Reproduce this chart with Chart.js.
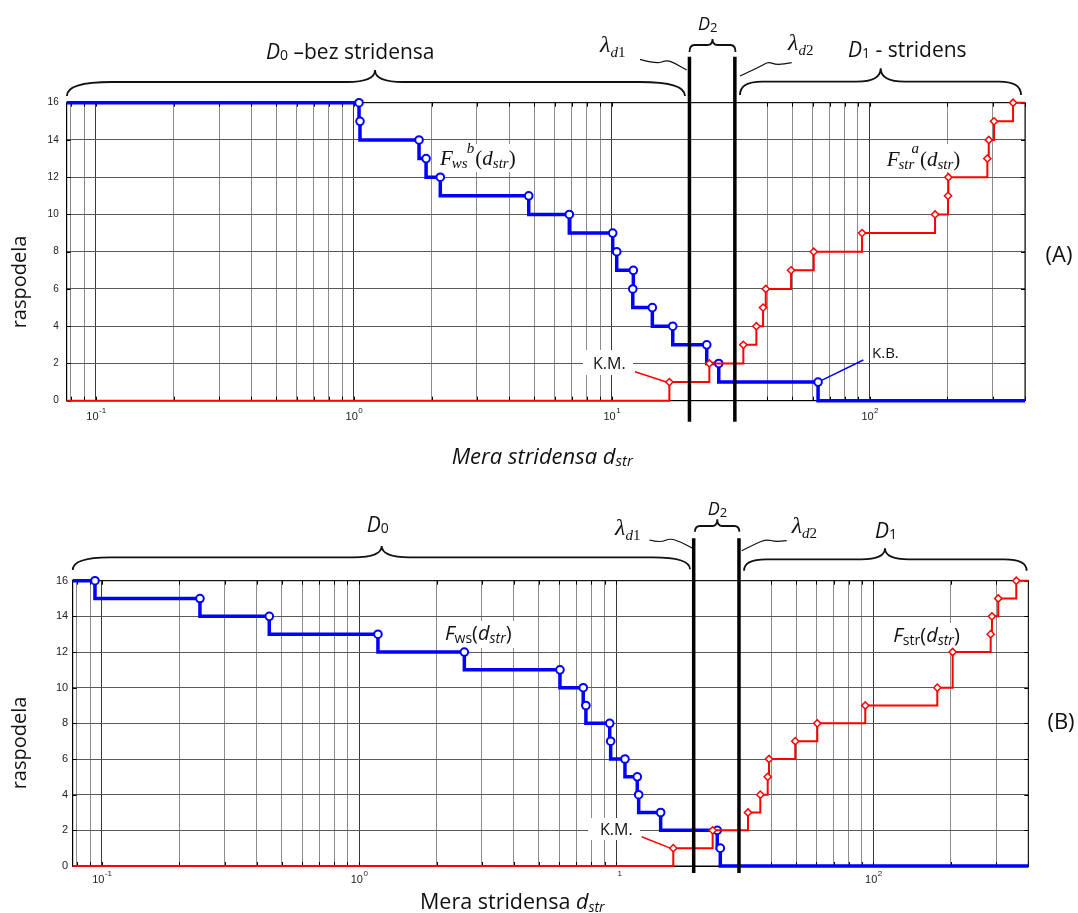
<!DOCTYPE html>
<html>
<head>
<meta charset="utf-8">
<script src="https://cdn.jsdelivr.net/npm/chart.js@4.4.1/dist/chart.umd.min.js"></script>
<style>
  html, body { margin: 0; padding: 0; background: #fff; }
  #wrap { position: relative; width: 1078px; height: 913px; overflow: hidden; background: #fff; }
  canvas { position: absolute; left: 0; }
  #cA { top: 0; }
  #cB { top: 480px; }
</style>
</head>
<body>
<div id="wrap">
  <canvas id="cA" width="1078" height="480"></canvas>
  <canvas id="cB" width="1078" height="433"></canvas>
</div>
<script>
// ---- axis range, grid and tick labels ----
const X_MIN = 0.077, X_MAX = 400;
const X_GRID = [0.08, 0.09,
  0.1, 0.2, 0.3, 0.4, 0.5, 0.6, 0.7, 0.8, 0.9,
  1, 2, 3, 4, 5, 6, 7, 8, 9,
  10, 20, 30, 40, 50, 60, 70, 80, 90,
  100, 200, 300, 400];
const X_DECADES = [0.1, 1, 10, 100];
const DECADE_EXP = ['-1', '0', '1', '2'];
const DECADE_BASE_A = ['10', '10', '10', '10'];
const DECADE_BASE_B = ['10', '10', '', '10'];
const Y_MIN = 0, Y_MAX = 16, Y_STEP = 2;

// threshold lines between the regions D0 / D2 / D1
const LAMBDA_D1 = 20;
const LAMBDA_D2 = 30;

// ---- (A) F^b_ws (blue, falling) and F^a_str (red, rising) ----
const wsA_x = [1.047, 1.056, 1.789, 1.905, 2.163, 4.763, 6.844, 10.08, 10.45, 12.12, 12.06, 14.36, 17.23, 23.34, 25.98, 63.06];
const wsA_y = [16, 15, 14, 13, 12, 11, 10, 9, 8, 7, 6, 5, 4, 3, 2, 1];
const strA_x = [16.72, 23.89, 32.36, 36.35, 38.59, 39.53, 49.55, 60.67, 93.4, 179.2, 201.2, 201.8, 285.8, 289.4, 303.4, 359.6];
const strA_y = [1, 2, 3, 4, 5, 6, 7, 8, 9, 10, 11, 12, 13, 14, 15, 16];

// ---- (B) F_ws (blue, falling) and F_str (red, rising) ----
const wsB_x = [0.094, 0.2406, 0.4476, 1.184, 2.566, 6.04, 7.44, 7.62, 9.43, 9.51, 10.81, 12.07, 12.22, 14.88, 24.7, 25.38];
const wsB_y = [16, 15, 14, 13, 12, 11, 10, 9, 8, 7, 6, 5, 4, 3, 2, 1];
const strB_x = [16.66, 23.7, 32.52, 36.31, 38.8, 39.25, 49.66, 60.47, 92.94, 177.1, 203.2, 285.6, 288.9, 305.6, 359.2];
const strB_y = [1, 2, 3, 4, 5, 6, 7, 8, 9, 10, 12, 13, 14, 15, 16];

// ---- fonts ----
const SANS = '"Open Sans", "Noto Sans", "DejaVu Sans", sans-serif';
const SERIF = '"Liberation Serif", "DejaVu Serif", serif';
const ARIAL = '"Liberation Sans", Arial, sans-serif';

// step curve: start value held from the left edge, end value held to the right edge
function stepPoints(xs, ys, startY, endY) {
  const pts = [{ x: X_MIN, y: startY }];
  xs.forEach((x, i) => pts.push({ x: x, y: ys[i] }));
  pts.push({ x: X_MAX, y: endY });
  return pts;
}

// text made of runs (italic letters, sub/superscripts)
function runs(ctx, x, y, parts) {
  for (const p of parts) {
    ctx.font = p.f;
    if (p.sup !== undefined) {
      ctx.fillText(p.sub, x + (p.subDx || 0), y + p.subDy);
      ctx.fillText(p.sup, x + (p.supDx || 0), y + p.supDy);
      x += Math.max(ctx.measureText(p.sup).width + (p.supDx || 0),
                    ctx.measureText(p.sub).width + (p.subDx || 0)) + (p.gap || 0);
    } else {
      ctx.fillText(p.t, x, y + (p.dy || 0));
      x += ctx.measureText(p.t).width + (p.gap || 0);
    }
  }
  return x;
}

// horizontal curly brace opening downwards
function brace(ctx, b) {
  ctx.beginPath();
  ctx.moveTo(b.x1, b.y1);
  ctx.quadraticCurveTo(b.x1, b.yFlat, b.x1 + b.rEnd, b.yFlat);
  ctx.lineTo(b.xTip - b.rTip, b.yFlat);
  ctx.quadraticCurveTo(b.xTip, b.yFlat, b.xTip, b.yTip);
  ctx.quadraticCurveTo(b.xTip, b.yFlat, b.xTip + b.rTip, b.yFlat);
  ctx.lineTo(b.x2 - b.rEnd, b.yFlat);
  ctx.quadraticCurveTo(b.x2, b.yFlat, b.x2, b.y2);
  ctx.stroke();
}

// wavy leader line through a few points
function squiggle(ctx, pts) {
  ctx.beginPath();
  ctx.moveTo(pts[0][0], pts[0][1]);
  for (let i = 1; i < pts.length - 1; i++) {
    const mx = (pts[i][0] + pts[i + 1][0]) / 2, my = (pts[i][1] + pts[i + 1][1]) / 2;
    ctx.quadraticCurveTo(pts[i][0], pts[i][1], mx, my);
  }
  const l = pts[pts.length - 1];
  ctx.lineTo(l[0], l[1]);
  ctx.stroke();
}

function whiteBox(ctx, x, y, w, h) {
  ctx.fillStyle = '#fff';
  ctx.fillRect(x, y, w, h);
}

// frame, inward tick marks, decade labels (drawn under the curves)
function frameAndTicks(chart, bases, labelBase) {
  const ctx = chart.ctx, a = chart.chartArea, xs = chart.scales.x, ys = chart.scales.y;
  ctx.save();
  ctx.strokeStyle = '#000';
  ctx.lineWidth = 1;
  ctx.strokeRect(a.left, a.top, a.right - a.left, a.bottom - a.top);
  ctx.beginPath();
  X_GRID.forEach(v => {
    const px = Math.round(xs.getPixelForValue(v)) + 0.5;
    ctx.moveTo(px, a.bottom); ctx.lineTo(px, a.bottom - 4);
    ctx.moveTo(px, a.top); ctx.lineTo(px, a.top + 4);
  });
  for (let v = Y_MIN; v <= Y_MAX; v += Y_STEP) {
    const py = Math.round(ys.getPixelForValue(v)) + 0.5;
    ctx.moveTo(a.left, py); ctx.lineTo(a.left + 4, py);
    ctx.moveTo(a.right, py); ctx.lineTo(a.right - 4, py);
  }
  ctx.stroke();
  ctx.fillStyle = '#222';
  ctx.textBaseline = 'alphabetic';
  X_DECADES.forEach((v, i) => {
    const gx = xs.getPixelForValue(v);
    ctx.font = '11px ' + ARIAL;
    const wb = ctx.measureText(bases[i]).width;
    ctx.font = '8px ' + ARIAL;
    const we = ctx.measureText(DECADE_EXP[i]).width;
    let x0 = gx - (wb + we) / 2;
    if (!bases[i]) x0 += 3;
    ctx.font = '11px ' + ARIAL;
    ctx.fillText(bases[i], x0, labelBase);
    ctx.font = '8px ' + ARIAL;
    ctx.fillText(DECADE_EXP[i], x0 + wb + 0.5, labelBase - 7);
  });
  ctx.restore();
}

function lambdaLines(chart, yTop, yBot) {
  const ctx = chart.ctx, xs = chart.scales.x;
  ctx.save();
  ctx.strokeStyle = '#000';
  ctx.lineWidth = 3.5;
  ctx.beginPath();
  [LAMBDA_D1, LAMBDA_D2].forEach(v => {
    const px = xs.getPixelForValue(v);
    ctx.moveTo(px, yTop); ctx.lineTo(px, yBot);
  });
  ctx.stroke();
  ctx.restore();
}

function verticalLabel(ctx, text, cx, cy) {
  ctx.save();
  ctx.translate(cx, cy);
  ctx.rotate(-Math.PI / 2);
  ctx.font = '20px ' + SANS;
  ctx.fillStyle = '#111';
  ctx.textAlign = 'center';
  ctx.textBaseline = 'middle';
  ctx.fillText(text, 0, 0);
  ctx.restore();
}

function lambdaLabel(ctx, x, y, idx) {
  runs(ctx, x, y, [
    { t: 'λ', f: 'italic 24px ' + SERIF, gap: 0 },
    { t: 'd', f: 'italic 15px ' + SERIF, dy: 5 },
    { t: idx, f: '15px ' + SERIF, dy: 5 }
  ]);
}

// ---------- decorations of panel (A) ----------
const decoA = {
  id: 'decoA',
  beforeDatasetsDraw(chart) {
    const ctx = chart.ctx, xs = chart.scales.x, ys = chart.scales.y;
    frameAndTicks(chart, DECADE_BASE_A, 420);
    ctx.save();
    ctx.textBaseline = 'alphabetic';
    // curve names
    whiteBox(ctx, 437, 144, 82, 28);
    ctx.fillStyle = '#111';
    runs(ctx, 440, 165, [
      { t: 'F', f: 'italic 21px ' + SERIF, gap: 0 },
      { sup: 'b', sub: 'ws', f: 'italic 15px ' + SERIF, supDy: -12, subDy: 3, supDx: 14, subDx: -1, gap: 1 },
      { t: '(', f: '21px ' + SERIF },
      { t: 'd', f: 'italic 21px ' + SERIF },
      { t: 'str', f: 'italic 15px ' + SERIF, dy: 3 },
      { t: ')', f: '21px ' + SERIF }
    ]);
    whiteBox(ctx, 883, 144, 82, 28);
    ctx.fillStyle = '#111';
    runs(ctx, 886.7, 166, [
      { t: 'F', f: 'italic 21px ' + SERIF, gap: 0 },
      { sup: 'a', sub: 'str', f: 'italic 15px ' + SERIF, supDy: -13, subDy: 3, supDx: 12, subDx: -1, gap: 1 },
      { t: '(', f: '21px ' + SERIF },
      { t: 'd', f: 'italic 21px ' + SERIF },
      { t: 'str', f: 'italic 15px ' + SERIF, dy: 3 },
      { t: ')', f: '21px ' + SERIF }
    ]);
    // K.M. note pointing at the first rise of the red curve
    whiteBox(ctx, 583, 350, 50, 25);
    ctx.fillStyle = '#111';
    ctx.font = '16px ' + SANS;
    ctx.fillText('K.M.', 593, 369);
    ctx.strokeStyle = '#ff0000';
    ctx.lineWidth = 1.5;
    ctx.beginPath();
    ctx.moveTo(635, 371.7);
    ctx.lineTo(xs.getPixelForValue(strA_x[0]) - 3, ys.getPixelForValue(strA_y[0]));
    ctx.stroke();
    // K.B. note pointing at the last drop of the blue curve
    ctx.fillStyle = '#111';
    ctx.font = '15px ' + SANS;
    ctx.fillText('K.B.', 872, 358);
    ctx.strokeStyle = '#0000ff';
    ctx.beginPath();
    ctx.moveTo(xs.getPixelForValue(wsA_x[15]) + 4, ys.getPixelForValue(wsA_y[15]) - 2);
    ctx.lineTo(863.3, 360);
    ctx.stroke();
    ctx.restore();
  },
  afterDatasetsDraw(chart) {
    lambdaLines(chart, 56.7, 421.7);
  },
  afterDraw(chart) {
    const ctx = chart.ctx;
    ctx.save();
    ctx.strokeStyle = '#111';
    ctx.lineWidth = 1.8;
    brace(ctx, { x1: 66.8, y1: 96, x2: 685, y2: 96, yFlat: 82, xTip: 375, yTip: 70, rEnd: 45, rTip: 28 });
    brace(ctx, { x1: 689.5, y1: 52, x2: 735.5, y2: 52, yFlat: 45, xTip: 712.5, yTip: 39, rEnd: 5, rTip: 5 });
    brace(ctx, { x1: 740, y1: 95, x2: 1021, y2: 95, yFlat: 81.7, xTip: 880.7, yTip: 68.3, rEnd: 22, rTip: 24 });
    ctx.lineWidth = 1.2;
    squiggle(ctx, [[640, 59.3], [656.7, 64], [666.7, 60], [675, 63.3], [686.7, 70]]);
    squiggle(ctx, [[740, 76], [760, 66.7], [768.3, 61.7], [776.7, 65], [791.7, 62.7]]);
    ctx.fillStyle = '#111';
    ctx.textBaseline = 'alphabetic';
    runs(ctx, 266, 59.3, [
      { t: 'D', f: 'italic 21px ' + SANS },
      { t: '0', f: '14px ' + SANS, dy: 1 },
      { t: ' –bez stridensa', f: '21px ' + SANS }
    ]);
    runs(ctx, 698, 30, [
      { t: 'D', f: 'italic 18px ' + SANS },
      { t: '2', f: '13px ' + SANS, dy: 2 }
    ]);
    runs(ctx, 848, 57, [
      { t: 'D', f: 'italic 21px ' + SANS },
      { t: '1', f: '14px ' + SANS, dy: 1 },
      { t: ' - stridens', f: '21px ' + SANS }
    ]);
    lambdaLabel(ctx, 600, 51.7, '1');
    lambdaLabel(ctx, 788, 50, '2');
    // axis titles and panel tag
    runs(ctx, 451.7, 464.3, [
      { t: 'Mera stridensa ', f: 'italic 22px ' + SANS },
      { t: 'd', f: 'italic 22px ' + SANS },
      { t: 'str', f: 'italic 15px ' + SANS, dy: 2 }
    ]);
    verticalLabel(ctx, 'raspodela', 20, 282);
    ctx.font = '22px ' + SANS;
    ctx.textAlign = 'center';
    ctx.textBaseline = 'middle';
    ctx.fillText('(A)', 1059, 256);
    ctx.restore();
  }
};

// ---------- decorations of panel (B) ----------
const decoB = {
  id: 'decoB',
  beforeDatasetsDraw(chart) {
    const ctx = chart.ctx, xs = chart.scales.x, ys = chart.scales.y;
    frameAndTicks(chart, DECADE_BASE_B, 403.3);
    ctx.save();
    ctx.textBaseline = 'alphabetic';
    whiteBox(ctx, 441, 141, 80, 27);
    ctx.fillStyle = '#111';
    runs(ctx, 445, 160, [
      { t: 'F', f: 'italic 20px ' + SANS },
      { t: 'ws', f: '14px ' + SANS, dy: 3 },
      { t: '(', f: '20px ' + SANS },
      { t: 'd', f: 'italic 20px ' + SANS },
      { t: 'str', f: 'italic 14px ' + SANS, dy: 3 },
      { t: ')', f: '20px ' + SANS }
    ]);
    whiteBox(ctx, 889, 143, 80, 27);
    ctx.fillStyle = '#111';
    runs(ctx, 893.3, 161.7, [
      { t: 'F', f: 'italic 20px ' + SANS },
      { t: 'str', f: '14px ' + SANS, dy: 3 },
      { t: '(', f: '20px ' + SANS },
      { t: 'd', f: 'italic 20px ' + SANS },
      { t: 'str', f: 'italic 14px ' + SANS, dy: 3 },
      { t: ')', f: '20px ' + SANS }
    ]);
    whiteBox(ctx, 588, 338, 52, 22);
    ctx.fillStyle = '#111';
    ctx.font = '16px ' + SANS;
    ctx.fillText('K.M.', 600, 355);
    ctx.strokeStyle = '#ff0000';
    ctx.lineWidth = 1.5;
    ctx.beginPath();
    ctx.moveTo(641.7, 356.7);
    ctx.lineTo(xs.getPixelForValue(strB_x[0]) - 3, ys.getPixelForValue(strB_y[0]));
    ctx.stroke();
    ctx.restore();
  },
  afterDatasetsDraw(chart) {
    lambdaLines(chart, 58.3, 393);
  },
  afterDraw(chart) {
    const ctx = chart.ctx;
    ctx.save();
    ctx.strokeStyle = '#111';
    ctx.lineWidth = 1.8;
    brace(ctx, { x1: 72.7, y1: 90, x2: 690, y2: 89.3, yFlat: 77.3, xTip: 381.7, yTip: 66, rEnd: 37, rTip: 28 });
    brace(ctx, { x1: 695, y1: 51.7, x2: 739.3, y2: 51.7, yFlat: 46, xTip: 717.3, yTip: 39.3, rEnd: 5, rTip: 5 });
    brace(ctx, { x1: 744, y1: 90.7, x2: 1026.7, y2: 90.7, yFlat: 79.3, xTip: 885, yTip: 68.3, rEnd: 22, rTip: 24 });
    ctx.lineWidth = 1.2;
    squiggle(ctx, [[649.3, 60], [660, 62.7], [670, 58.3], [680, 61.7], [692.7, 68.3]]);
    squiggle(ctx, [[741.7, 70.7], [756.7, 63.3], [766.7, 59.3], [775, 61.7], [786.7, 60.7]]);
    ctx.fillStyle = '#111';
    ctx.textBaseline = 'alphabetic';
    runs(ctx, 366.7, 51.7, [
      { t: 'D', f: 'italic 21px ' + SANS },
      { t: '0', f: '14px ' + SANS, dy: 1 }
    ]);
    runs(ctx, 707.7, 35, [
      { t: 'D', f: 'italic 18px ' + SANS },
      { t: '2', f: '13px ' + SANS, dy: 2 }
    ]);
    runs(ctx, 875, 58.3, [
      { t: 'D', f: 'italic 21px ' + SANS },
      { t: '1', f: '14px ' + SANS, dy: 1 }
    ]);
    lambdaLabel(ctx, 615, 55, '1');
    lambdaLabel(ctx, 791.7, 53, '2');
    runs(ctx, 420, 429, [
      { t: 'Mera stridensa ', f: '21.5px ' + SANS },
      { t: 'd', f: 'italic 21.5px ' + SANS },
      { t: 'str', f: 'italic 14px ' + SANS, dy: 3 }
    ]);
    verticalLabel(ctx, 'raspodela', 20, 263);
    ctx.font = '22px ' + SANS;
    ctx.textAlign = 'center';
    ctx.textBaseline = 'middle';
    ctx.fillText('(B)', 1061, 243);
    ctx.restore();
  }
};

function edgeless(r) {
  return c => (c.dataIndex === 0 || c.dataIndex === c.dataset.data.length - 1) ? 0 : r;
}

function makeChart(id, cfg) {
  return new Chart(document.getElementById(id), {
    type: 'line',
    data: {
      datasets: [
        {
          // rising curve: horizontal run first, then the jump up at each marker
          data: stepPoints(cfg.redX, cfg.redY, 0, 16),
          stepped: 'before',
          borderColor: '#ff0000', borderWidth: 2,
          pointStyle: 'rectRot', pointRadius: edgeless(3.6), pointHoverRadius: edgeless(3.6),
          pointBorderColor: '#ff0000', pointBackgroundColor: '#ffffff', pointBorderWidth: 1.5,
          clip: false, fill: false
        },
        {
          // falling curve: drop at each marker, then the horizontal run
          data: stepPoints(cfg.blueX, cfg.blueY, 16, 0),
          stepped: 'after',
          borderColor: '#0000ff', borderWidth: 3.5,
          pointStyle: 'circle', pointRadius: edgeless(3.8), pointHoverRadius: edgeless(3.8),
          pointBorderColor: '#0000ff', pointBackgroundColor: '#ffffff', pointBorderWidth: 2,
          clip: false, fill: false
        }
      ]
    },
    options: {
      responsive: false,
      animation: false,
      devicePixelRatio: 1,
      events: [],
      layout: { padding: cfg.pad },
      plugins: { legend: { display: false }, tooltip: { enabled: false } },
      scales: {
        x: {
          type: 'logarithmic',
          min: X_MIN, max: X_MAX,
          afterBuildTicks: s => { s.ticks = X_GRID.map(v => ({ value: v })); },
          afterFit: s => { s.height = 0; },
          ticks: { display: false, autoSkip: false },
          grid: {
            drawTicks: false,
            lineWidth: 1,
            color: c => (c.tick && X_DECADES.includes(c.tick.value)) ? '#3a3a3a' : '#8c8c8c'
          },
          border: { color: '#000', width: 1 }
        },
        y: {
          min: Y_MIN, max: Y_MAX,
          afterFit: s => { s.width = 30; },
          ticks: { stepSize: Y_STEP, padding: cfg.yPad, color: '#222', font: { family: ARIAL, size: cfg.yFont } },
          grid: { drawTicks: false, color: '#5a5a5a', lineWidth: 1 },
          border: { color: '#000', width: 1 }
        }
      }
    },
    plugins: [cfg.deco]
  });
}

function drawAll() {
  makeChart('cA', {
    redX: strA_x, redY: strA_y, blueX: wsA_x, blueY: wsA_y,
    pad: { left: 36.7, right: 53, top: 102.7, bottom: 79.3 },
    yPad: 8, yFont: 10, deco: decoA
  });
  makeChart('cB', {
    redX: strB_x, redY: strB_y, blueX: wsB_x, blueY: wsB_y,
    pad: { left: 42.7, right: 49.7, top: 100.7, bottom: 47 },
    yPad: 4.5, yFont: 11, deco: decoB
  });
}

if (document.fonts && document.fonts.load) {
  Promise.all([
    document.fonts.load('20px "Open Sans"'),
    document.fonts.load('italic 20px "Open Sans"'),
    document.fonts.load('italic 20px "Liberation Serif"'),
    document.fonts.load('11px "Liberation Sans"')
  ]).then(drawAll, drawAll);
} else {
  drawAll();
}
</script>
</body>
</html>
